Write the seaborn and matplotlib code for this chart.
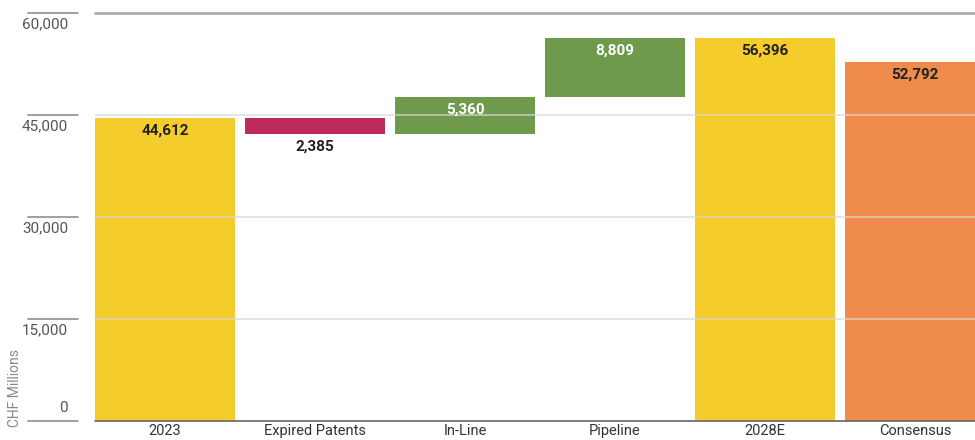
import matplotlib
matplotlib.use("Agg")
import matplotlib.pyplot as plt
import seaborn as sns
import numpy as np
import pandas as pd

# ---- data ----
categories = ["2023", "Expired Patents", "In-Line", "Pipeline", "2028E", "Consensus"]
changes = [44612, -2385, 5360, 8809, None, None]
totals = {"2028E": 56396, "Consensus": 52792}
value_labels = ["44,612", "2,385", "5,360", "8,809", "56,396", "52,792"]
bar_colors = ["#F4CD2C", "#BE2B5A", "#6F9A4B", "#6F9A4B", "#F4CD2C", "#EF8B4B"]
label_colors = ["#222222", "#222222", "#FFFFFF", "#FFFFFF", "#222222", "#222222"]
yticks = [0, 15000, 30000, 45000, 60000]
ytick_labels = ["0", "15,000", "30,000", "45,000", "60,000"]

# ---- compute waterfall extents ----
bottoms, tops = [], []
running = 0
for c, ch in zip(categories, changes):
    if c in totals:
        bottoms.append(0)
        tops.append(totals[c])
    elif c == "2023":
        bottoms.append(0)
        tops.append(ch)
        running = ch
    else:
        start = running
        running = running + ch
        bottoms.append(min(start, running))
        tops.append(max(start, running))

df = pd.DataFrame({"category": categories, "top": tops})

sns.set_style("white")
FONT = ["Roboto", "DejaVu Sans"]
plt.rcParams["font.family"] = FONT

W, H = 975, 440
fig = plt.figure(figsize=(W / 100, H / 100), dpi=100)
ax = fig.add_axes([95 / W, 1 - 421 / H, 1 - 95 / W, (421 - 13) / H])

sns.barplot(data=df, x="category", y="top", hue="category", palette=bar_colors,
            order=categories, hue_order=categories, width=0.933, legend=False,
            ax=ax, zorder=1, linewidth=0, saturation=1)

for p, b, t in zip(ax.patches, bottoms, tops):
    p.set_y(b)
    p.set_height(t - b)

XL = -0.4667
ax.set_xlim(XL, 5.4)
ax.set_ylim(0, 60000)

for s in ax.spines.values():
    s.set_visible(False)

# gridlines
for v in [15000, 30000, 45000]:
    ax.axhline(v, color="#d9d9d9", lw=1.3, alpha=0.7, zorder=3)
ax.axhline(60000, color="#aaaaaa", lw=2, zorder=3, clip_on=False)
ax.axhline(0, color="#666666", lw=1.2, zorder=3, clip_on=False)

# y tick labels with short rule above each (px -> data x units: 150 px per category)
PX = 1 / 150.0
ax.set_yticks([])
ax.set_ylabel("")
for v, lab in zip(yticks, ytick_labels):
    ax.plot([XL - (95 - 28) * PX, XL - (95 - 78) * PX], [v, v],
            color="#999999", lw=1.3, clip_on=False, zorder=3)
    if v == 0:
        ax.annotate(lab, xy=(XL - (95 - 68) * PX, v), xytext=(0, 4),
                    textcoords="offset points", ha="right", va="bottom",
                    fontsize=11, color="#555555", annotation_clip=False)
    else:
        ax.annotate(lab, xy=(XL - (95 - 68) * PX, v), xytext=(0, -3),
                    textcoords="offset points", ha="right", va="top",
                    fontsize=11, color="#555555", annotation_clip=False)

# x tick labels
ax.set_xlabel("")
ax.tick_params(axis="x", length=0, pad=2, labelsize=10.5, labelcolor="#333333")

# y axis label
fig.text(15 / W, 1 - 388 / H, "CHF Millions", rotation=90, ha="center", va="center",
         fontsize=10, color="#888888")

# value labels
for i, (lab, b, t) in enumerate(zip(value_labels, bottoms, tops)):
    if categories[i] == "Expired Patents":
        ax.annotate(lab, xy=(i, b), xytext=(0, -4), textcoords="offset points",
                    ha="center", va="top", fontsize=11, fontweight="bold",
                    color=label_colors[i], zorder=5)
    else:
        ax.annotate(lab, xy=(i, t), xytext=(0, -4), textcoords="offset points",
                    ha="center", va="top", fontsize=11, fontweight="bold",
                    color=label_colors[i], zorder=5)

fig.savefig("out.png", dpi=100)
